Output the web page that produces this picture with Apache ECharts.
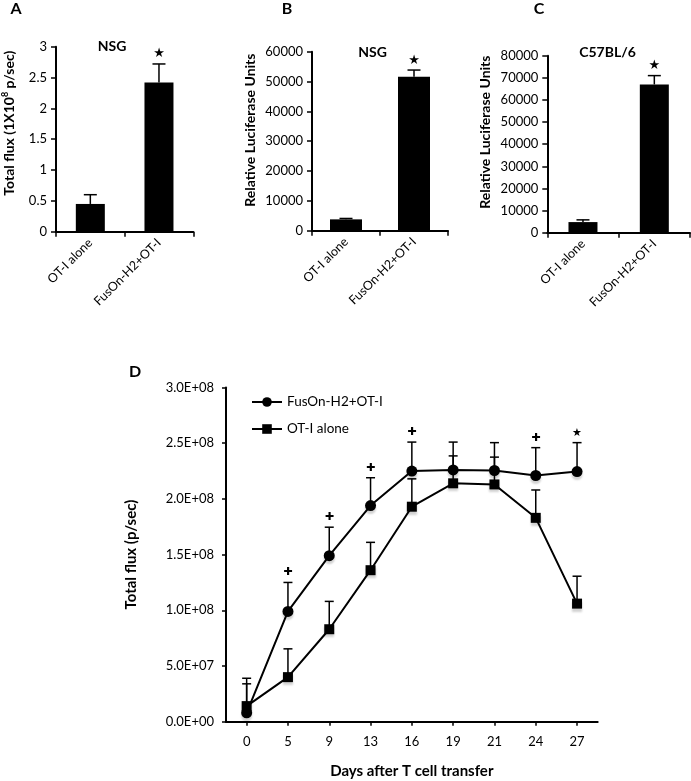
<!DOCTYPE html>
<html>
<head>
<meta charset="utf-8">
<script src="https://cdn.jsdelivr.net/npm/echarts@6/dist/echarts.min.js"></script>
<style>html,body{margin:0;padding:0;background:#fff}#c{width:691px;height:781px}</style>
</head>
<body>
<div id="c"></div>
<script>
// ---------- data ----------
const groups = ['OT-I alone', 'FusOn-H2+OT-I'];
const aMean = [0.45, 2.42];
const aErr = [0.15, 0.30];
const aSig = ['', '★'];
const bMean = [3800, 51600];
const bErr = [300, 2250];
const bSig = ['', '★'];
const cMean = [4800, 67000];
const cErr = [1000, 4000];
const cSig = ['', '★'];

const days = ['0', '5', '9', '13', '16', '19', '21', '24', '27'];
const fusMean = [0.8e7, 0.99e8, 1.49e8, 1.94e8, 2.25e8, 2.26e8, 2.255e8, 2.21e8, 2.245e8];
const fusErr = [2.6e7, 2.6e7, 2.56e7, 2.5e7, 2.6e7, 2.5e7, 2.5e7, 2.5e7, 2.6e7];
const otMean = [1.4e7, 4.0e7, 8.3e7, 1.36e8, 1.93e8, 2.14e8, 2.13e8, 1.83e8, 1.06e8];
const otErr = [2.5e7, 2.54e7, 2.5e7, 2.5e7, 2.5e7, 2.46e7, 2.45e7, 2.5e7, 2.46e7];
const dSig = ['', '✚', '✚', '✚', '✚', '', '', '✚', '★'];
const noSig = ['', '', '', '', '', '', '', '', ''];

// ---------- styles ----------
const FF = 'Lato, "Open Sans", sans-serif';
const AX = { lineStyle: { color: '#000', width: 2 } };

function errSeries(xi, yi, mean, err, sig, capW, sigSize, sigOff, z) {
  return {
    type: 'custom', xAxisIndex: xi, yAxisIndex: yi, z: z || 1, silent: true,
    data: mean.map((m, i) => [i, m, err[i]]),
    renderItem: function (params, api) {
      const x = api.value(0), m = api.value(1), e = api.value(2);
      const p0 = api.coord([x, m]);
      const p1 = api.coord([x, m + e]);
      const ch = [];
      ch.push({ type: 'line', shape: { x1: p0[0], y1: p0[1], x2: p1[0], y2: p1[1] }, style: { stroke: '#000', lineWidth: 1.5 } });
      ch.push({ type: 'line', shape: { x1: p1[0] - capW / 2, y1: p1[1], x2: p1[0] + capW / 2, y2: p1[1] }, style: { stroke: '#000', lineWidth: 1.5 } });
      const s = sig[params.dataIndex];
      if (s) {
        ch.push({ type: 'text', style: { x: p1[0], y: p1[1] - sigOff, text: s, fill: '#000', font: 'bold ' + sigSize + 'px "DejaVu Sans", sans-serif', align: 'center', verticalAlign: 'middle' } });
      }
      return { type: 'group', children: ch };
    }
  };
}

const grids = [
  { left: 54, top: 46.7, width: 139.3, height: 185 },
  { left: 312, top: 51.7, width: 136, height: 179 },
  { left: 547.3, top: 55.7, width: 142.7, height: 177 },
  { left: 226, top: 387.5, width: 371.7, height: 334.2 }
];

function catAxis(gi) {
  return {
    type: 'category', gridIndex: gi, data: groups, boundaryGap: true,
    axisLine: AX, axisTick: { show: true, length: 5, lineStyle: { color: '#000', width: 1.5 } },
    axisLabel: { rotate: 45, color: '#000', fontFamily: FF, fontSize: 12.5, margin: 9 }
  };
}
function valAxis(gi, max, interval, name, gap, pad) {
  return {
    type: 'value', gridIndex: gi, min: 0, max: max, interval: interval,
    splitLine: { show: false }, axisLine: { show: true, ...AX },
    axisTick: { show: true, length: 5, lineStyle: { color: '#000', width: 1.5 } },
    axisLabel: { color: '#000', fontFamily: FF, fontSize: 13, margin: 9, formatter: v => String(v) },
    name: name, nameLocation: 'middle', nameGap: gap,
    nameTextStyle: { color: '#000', fontFamily: FF, fontWeight: 'bold', fontSize: 14, padding: [0, 0, 0, pad],
      rich: { sup: { fontFamily: FF, fontWeight: 'bold', fontSize: 9, padding: [0, 0, 7, 0], color: '#000' } } }
  };
}
function sci(v) {
  if (v === 0) return '0.0E+00';
  const e = Math.floor(Math.log10(v) + 1e-9);
  const m = (v / Math.pow(10, e)).toFixed(1);
  return m + 'E+' + (e < 10 ? '0' + e : e);
}

const option = {
  backgroundColor: '#fff',
  animation: false,
  grid: grids,
  xAxis: [
    catAxis(0), catAxis(1), catAxis(2),
    {
      type: 'category', gridIndex: 3, data: days, boundaryGap: true,
      axisLine: AX, axisTick: { show: true, alignWithLabel: true, length: 4, lineStyle: { color: '#000', width: 1.5 } },
      axisLabel: { color: '#000', fontFamily: FF, fontSize: 13, margin: 14 },
      name: 'Days after T cell transfer', nameLocation: 'middle', nameGap: 42,
      nameTextStyle: { color: '#000', fontFamily: FF, fontWeight: 'bold', fontSize: 15 }
    }
  ],
  yAxis: [
    valAxis(0, 3, 0.5, 'Total flux (1X10{sup|8} p/sec)', 39, 32),
    valAxis(1, 60000, 10000, 'Relative Luciferase Units', 55, 22),
    valAxis(2, 80000, 10000, 'Relative Luciferase Units', 55, 24),
    {
      type: 'value', gridIndex: 3, min: 0, max: 3e8, interval: 5e7,
      splitLine: { show: false }, axisLine: { show: true, ...AX },
      axisTick: { show: true, length: 4, lineStyle: { color: '#000', width: 1.5 } },
      axisLabel: { color: '#000', fontFamily: FF, fontSize: 13, margin: 12, formatter: sci },
      name: 'Total flux (p/sec)', nameLocation: 'middle', nameGap: 87,
      nameTextStyle: { color: '#000', fontFamily: FF, fontWeight: 'bold', fontSize: 15 }
    }
  ],
  legend: {
    data: ['FusOn-H2+OT-I', 'OT-I alone'], orient: 'vertical', left: 246, top: 390,
    itemWidth: 30, itemHeight: 12, itemGap: 13,
    textStyle: { color: '#000', fontFamily: FF, fontSize: 13.5 }
  },
  graphic: [
    { type: 'text', x: 16, y: 9, style: { text: 'A', font: 'bold 16px ' + FF, fill: '#000', align: 'center', verticalAlign: 'middle' } },
    { type: 'text', x: 112, y: 46, style: { text: 'NSG', font: 'bold 14px ' + FF, fill: '#000', align: 'center', verticalAlign: 'middle' } },
    { type: 'text', x: 287, y: 9, style: { text: 'B', font: 'bold 16px ' + FF, fill: '#000', align: 'center', verticalAlign: 'middle' } },
    { type: 'text', x: 372.5, y: 52, style: { text: 'NSG', font: 'bold 14px ' + FF, fill: '#000', align: 'center', verticalAlign: 'middle' } },
    { type: 'text', x: 539, y: 9, style: { text: 'C', font: 'bold 16px ' + FF, fill: '#000', align: 'center', verticalAlign: 'middle' } },
    { type: 'text', x: 607.5, y: 52, style: { text: 'C57BL/6', font: 'bold 14px ' + FF, fill: '#000', align: 'center', verticalAlign: 'middle' } },
    { type: 'text', x: 135, y: 372, style: { text: 'D', font: 'bold 16px ' + FF, fill: '#000', align: 'center', verticalAlign: 'middle' } }
  ],
  series: [
    { type: 'bar', xAxisIndex: 0, yAxisIndex: 0, data: aMean, barWidth: 29, itemStyle: { color: '#000' }, z: 2 },
    errSeries(0, 0, aMean, aErr, aSig, 13, 13, 10.5, 1),
    { type: 'bar', xAxisIndex: 1, yAxisIndex: 1, data: bMean, barWidth: 32, itemStyle: { color: '#000' }, z: 2 },
    errSeries(1, 1, bMean, bErr, bSig, 13, 13, 9, 1),
    { type: 'bar', xAxisIndex: 2, yAxisIndex: 2, data: cMean, barWidth: 29, itemStyle: { color: '#000' }, z: 2 },
    errSeries(2, 2, cMean, cErr, cSig, 13, 13, 9.5, 1),
    errSeries(3, 3, fusMean, fusErr, dSig, 9, 11, 10, 1),
    errSeries(3, 3, otMean, otErr, noSig, 9, 11, 10, 1),
    {
      name: 'FusOn-H2+OT-I', type: 'line', xAxisIndex: 3, yAxisIndex: 3, data: fusMean,
      symbol: 'circle', symbolSize: 11, z: 3,
      lineStyle: { color: '#000', width: 2 },
      itemStyle: { color: '#000', shadowColor: 'rgba(0,0,0,0.18)', shadowBlur: 2, shadowOffsetY: 3 }
    },
    {
      name: 'OT-I alone', type: 'line', xAxisIndex: 3, yAxisIndex: 3, data: otMean,
      symbol: 'rect', symbolSize: 10, z: 3,
      lineStyle: { color: '#000', width: 2 },
      itemStyle: { color: '#000', shadowColor: 'rgba(0,0,0,0.18)', shadowBlur: 2, shadowOffsetY: 3 }
    }
  ]
};
const chart = echarts.init(document.getElementById('c'), null, { renderer: 'canvas' });
chart.setOption(option);
</script>
</body>
</html>
